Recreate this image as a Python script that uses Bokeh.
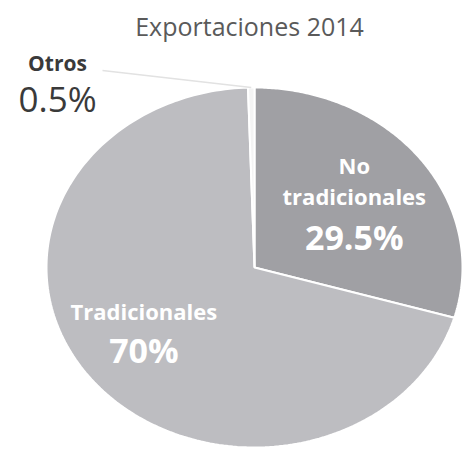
import numpy as np
from bokeh.plotting import figure
from bokeh.models import Range1d
from bokeh.core.properties import value
from bokeh.embed import file_html
from bokeh.resources import INLINE

# ---- data ----
title_text = "Exportaciones 2014"
categories = ["No tradicionales", "Tradicionales", "Otros"]
label_lines = [["No", "tradicionales"], ["Tradicionales"], ["Otros"]]
shares = [29.5, 70.0, 0.5]
pct_labels = ["29.5%", "70%", "0.5%"]

# ---- style / layout ----
colors = ["#a0a0a4", "#bdbdc1", "#f4f4f4"]
FONT = "Open Sans"
W, H = 466, 449
CX, CY = 254, 267          # pie centre (page pixels)
RX, RY = 208, 180          # pie radii (photo is slightly stretched)

p = figure(width=W, height=H, output_backend="svg", toolbar_location=None,
           x_range=Range1d(0, W), y_range=Range1d(H, 0),
           min_border=0, outline_line_color=None)
p.axis.visible = False
p.grid.visible = False
p.background_fill_color = "white"

total = sum(shares)
fr = np.cumsum([0] + shares) / total
xs, ys, mids = [], [], []
for i in range(len(shares)):
    th = np.linspace(fr[i], fr[i + 1], 200) * 2 * np.pi
    xs.append(list(np.r_[CX, CX + RX * np.sin(th)]))
    ys.append(list(np.r_[CY, CY - RY * np.cos(th)]))
    mids.append((fr[i] + fr[i + 1]) * np.pi)

p.patches(xs, ys, fill_color=colors, line_color="white", line_width=2)

def tx(x, y, s, size, color, bold=True, yoff=0, align="center"):
    p.text([x], [y], text=[s], text_font=value(FONT), text_font_size=size,
           text_color=color, text_font_style="bold" if bold else "normal",
           text_align=align, text_baseline="middle", y_offset=yoff)

# No tradicionales label (inside)
m = mids[0]
lx, ly = CX + RX * 0.6 * np.sin(m), CY - RY * 0.6 * np.cos(m)
tx(lx, ly, label_lines[0][0], "22px", "white", yoff=-38)
tx(lx, ly, label_lines[0][1], "22px", "white", yoff=-7)
tx(lx, ly, pct_labels[0], "34px", "white", yoff=34)

# Tradicionales label (inside)
m = mids[1]
lx, ly = CX + RX * 0.6 * np.sin(m) - 12, CY - RY * 0.6 * np.cos(m) - 2
tx(lx, ly, label_lines[1][0], "22px", "white", yoff=-21)
tx(lx, ly, pct_labels[1], "34px", "white", yoff=18)

# Otros label (outside with leader line)
m = mids[2]
ex, ey = CX + RX * np.sin(m), CY - RY * np.cos(m)
ox, oy = 57, 80
p.line([ox + 45, ex], [oy - 10, ey], line_color="#e2e2e2", line_width=1.5)
tx(ox, oy, label_lines[2][0], "21px", "#3a3a3a", yoff=-18)
tx(ox, oy, pct_labels[2], "35px", "#3a3a3a", bold=False, yoff=18)

# title
tx(CX - 5, 25, title_text, "25px", "#5a5a5a", bold=False)

open("out.html", "w").write(file_html(p, INLINE))
